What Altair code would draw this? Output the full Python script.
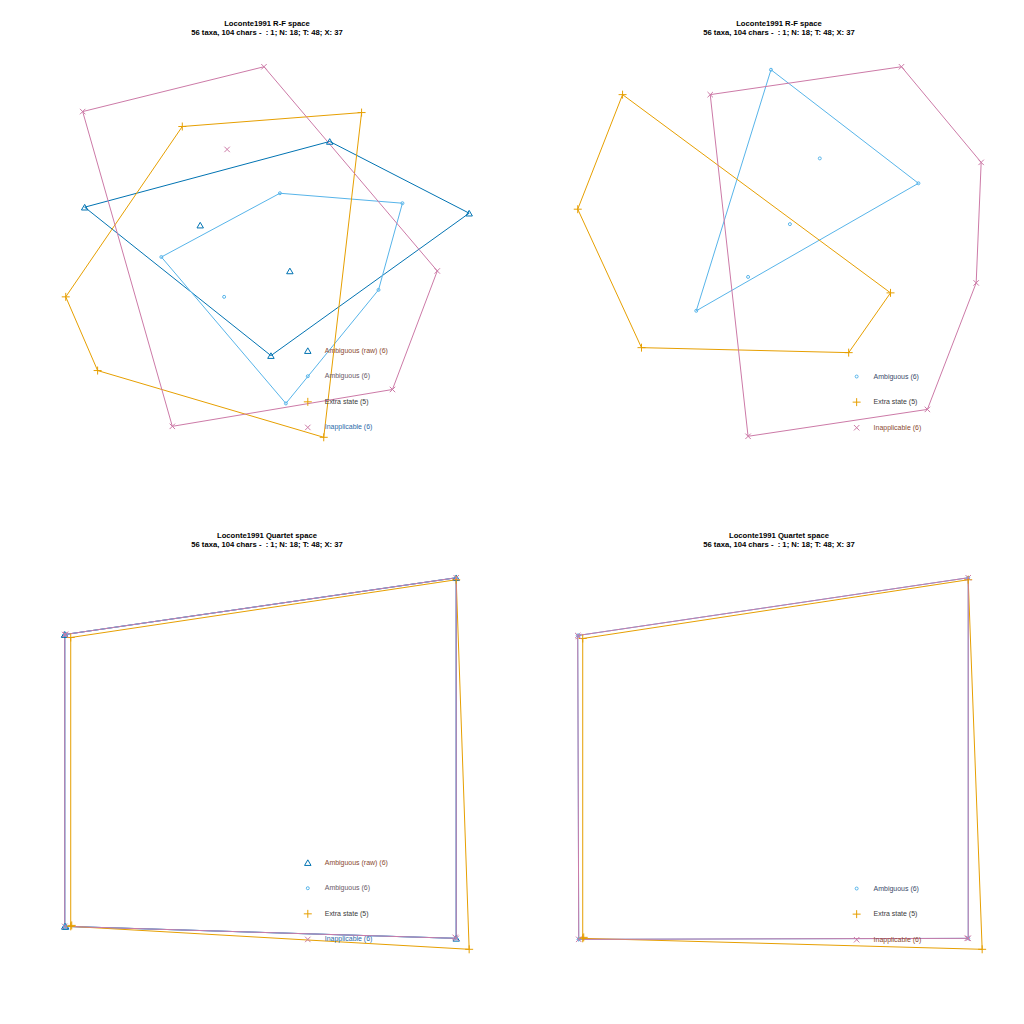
import altair as alt
import pandas as pd

GROUPS = ["Ambiguous (raw)", "Ambiguous", "Extra state", "Inapplicable"]
COLORS = {"Ambiguous (raw)": "#0072B2", "Ambiguous": "#56B4E9",
          "Extra state": "#E69F00", "Inapplicable": "#CC79A7"}
SHAPES = {"Ambiguous (raw)": "triangle-up", "Ambiguous": "circle",
          "Extra state": "M-1,0L1,0M0,-1L0,1", "Inapplicable": "M-1,-1L1,1M-1,1L1,-1"}
SIZES = {"Ambiguous (raw)": 42, "Ambiguous": 9, "Extra state": 64, "Inapplicable": 30}

TITLE2 = "56 taxa, 104 chars -\u00a0 : 1; N: 18; T: 48; X: 37"

# ---- Panel 1: R-F space (all four treatments)
p1_raw_x = [-1.72, 0.74, 2.14, 0.15, -0.56, 0.34]
p1_raw_y = [0.51, 1.17, 0.45, -0.98, 0.33, -0.13]
p1_amb_x = [0.24, 1.47, 1.23, 0.30, -0.95, -0.32]
p1_amb_y = [0.65, 0.55, -0.32, -1.46, 0.01, -0.39]
p1_ext_x = [-0.74, 1.06, 0.68, -1.59, -1.91]
p1_ext_y = [1.32, 1.46, -1.80, -1.13, -0.39]
p1_ina_x = [0.08, 1.82, 1.37, -0.84, -1.74, -0.29]
p1_ina_y = [1.92, -0.13, -1.32, -1.69, 1.47, 1.09]

# ---- Panel 2: R-F space (three treatments)
p2_amb_x = [0.03, 1.51, -0.72, 0.52, 0.22, -0.20]
p2_amb_y = [1.89, 0.75, -0.53, 1.00, 0.34, -0.19]
p2_ext_x = [-1.46, 1.23, 0.81, -1.27, -1.91]
p2_ext_y = [1.64, -0.35, -0.95, -0.90, 0.49]
p2_ina_x = [-0.58, 1.34, 2.14, 2.09, 1.60, -0.20]
p2_ina_y = [1.64, 1.92, 0.96, -0.25, -1.52, -1.79]

# ---- Panel 3: Quartet space (all four treatments)
p3_raw_x = [-1.92, 2.01, 2.01, -1.92, -1.92, -1.91]
p3_raw_y = [1.36, 1.93, -1.69, -1.57, 1.36, -1.57]
p3_amb_x = [-1.92, 2.01, 2.01, -1.92, -1.91, -1.92]
p3_amb_y = [1.36, 1.93, -1.69, -1.57, 1.36, -1.57]
p3_ext_x = [-1.86, 2.01, 2.14, -1.86, -1.85]
p3_ext_y = [1.33, 1.91, -1.80, -1.57, -1.56]
p3_ina_x = [-1.92, 2.01, 2.01, -1.92, -1.91, 2.00]
p3_ina_y = [1.36, 1.93, -1.69, -1.57, 1.36, -1.68]

# ---- Panel 4: Quartet space (three treatments)
p4_amb_x = [-1.91, 2.01, 2.01, -1.90, -1.90, -1.90]
p4_amb_y = [1.35, 1.93, -1.69, -1.70, 1.35, -1.70]
p4_ext_x = [-1.86, 2.01, 2.15, -1.86, -1.85]
p4_ext_y = [1.32, 1.91, -1.80, -1.69, -1.68]
p4_ina_x = [-1.91, 2.01, 2.01, -1.90, -1.90, 2.00]
p4_ina_y = [1.35, 1.93, -1.69, -1.70, 1.34, -1.69]

PANELS = [
    ("Loconte1991 R-F space",
     {"Ambiguous (raw)": (p1_raw_x, p1_raw_y), "Ambiguous": (p1_amb_x, p1_amb_y),
      "Extra state": (p1_ext_x, p1_ext_y), "Inapplicable": (p1_ina_x, p1_ina_y)},
     ["#8a4a30", "#6a5a68", "#3a3a3a", "#2a6aa8"], 349),
    ("Loconte1991 R-F space",
     {"Ambiguous": (p2_amb_x, p2_amb_y), "Extra state": (p2_ext_x, p2_ext_y),
      "Inapplicable": (p2_ina_x, p2_ina_y)},
     ["#3a4a6a", "#3a3a3a", "#8a4a30"], 375),
    ("Loconte1991 Quartet space",
     {"Ambiguous (raw)": (p3_raw_x, p3_raw_y), "Ambiguous": (p3_amb_x, p3_amb_y),
      "Extra state": (p3_ext_x, p3_ext_y), "Inapplicable": (p3_ina_x, p3_ina_y)},
     ["#8a4a30", "#6a5a68", "#3a3a3a", "#2a6aa8"], 349),
    ("Loconte1991 Quartet space",
     {"Ambiguous": (p4_amb_x, p4_amb_y), "Extra state": (p4_ext_x, p4_ext_y),
      "Inapplicable": (p4_ina_x, p4_ina_y)},
     ["#3a4a6a", "#3a3a3a", "#8a4a30"], 375),
]
LEGEND_X = [308, 857 - 512, 308, 857 - 512]


def convex_hull(xs, ys):
    pts = sorted(set(zip(xs, ys)))
    if len(pts) < 3:
        return pts

    def cross(o, a, b):
        return (a[0] - o[0]) * (b[1] - o[1]) - (a[1] - o[1]) * (b[0] - o[0])

    lower = []
    for p in pts:
        while len(lower) >= 2 and cross(lower[-2], lower[-1], p) <= 0:
            lower.pop()
        lower.append(p)
    upper = []
    for p in reversed(pts):
        while len(upper) >= 2 and cross(upper[-2], upper[-1], p) <= 0:
            upper.pop()
        upper.append(p)
    return lower[:-1] + upper[:-1]


DOM = [-2.56, 2.56]
X = alt.X("x:Q", scale=alt.Scale(domain=DOM, nice=False, zero=False), axis=None)
Y = alt.Y("y:Q", scale=alt.Scale(domain=DOM, nice=False, zero=False), axis=None)


def make_panel(idx):
    title1, groups, text_cols, legend_y0 = PANELS[idx]
    lx = LEGEND_X[idx]
    layers = []
    # hulls
    for g, (xs, ys) in groups.items():
        h = convex_hull(xs, ys)
        h = h + [h[0]]
        df = pd.DataFrame({"x": [p[0] for p in h], "y": [p[1] for p in h],
                           "k": list(range(len(h)))})
        layers.append(alt.Chart(df).mark_line(color=COLORS[g], strokeWidth=1)
                      .encode(x=X, y=Y, order="k:Q"))
    # points
    for g, (xs, ys) in groups.items():
        df = pd.DataFrame({"x": xs, "y": ys})
        layers.append(alt.Chart(df).mark_point(shape=SHAPES[g], size=SIZES[g],
                                               color=COLORS[g], filled=False,
                                               strokeWidth=1, opacity=1)
                      .encode(x=X, y=Y))
    # legend
    one = pd.DataFrame({"a": [0]})
    for i, (g, (xs, ys)) in enumerate(groups.items()):
        yy = legend_y0 + i * 25.7
        layers.append(alt.Chart(one).mark_point(shape=SHAPES[g], size=SIZES[g],
                                                color=COLORS[g], filled=False,
                                                strokeWidth=1, opacity=1)
                      .encode(x=alt.value(lx), y=alt.value(yy)))
        layers.append(alt.Chart(one).mark_text(text=f"{g} ({len(xs)})", align="left",
                                               baseline="middle", fontSize=7,
                                               font="Liberation Sans",
                                               color=text_cols[i])
                      .encode(x=alt.value(lx + 17), y=alt.value(yy)))
    # title
    layers.append(alt.Chart(one).mark_text(text=title1, align="center", baseline="middle",
                                           fontSize=7.7, fontWeight="bold",
                                           font="Liberation Sans", color="black")
                  .encode(x=alt.value(267), y=alt.value(21)))
    layers.append(alt.Chart(one).mark_text(text=TITLE2, align="center", baseline="middle",
                                           fontSize=7.7, fontWeight="bold",
                                           font="Liberation Sans", color="black")
                  .encode(x=alt.value(267), y=alt.value(30)))
    return alt.layer(*layers).properties(width=512, height=512)


row1 = alt.hconcat(make_panel(0), make_panel(1), spacing=0)
row2 = alt.hconcat(make_panel(2), make_panel(3), spacing=0)
chart = (alt.vconcat(row1, row2, spacing=0)
         .properties(padding=0, background="white")
         .configure_view(stroke="transparent"))

chart.save("out.html", embed_options={"renderer": "svg", "actions": False})
